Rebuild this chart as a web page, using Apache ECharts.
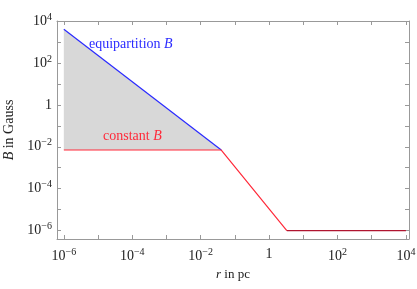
<!DOCTYPE html>
<html><head><meta charset="utf-8">
<script src="https://cdn.jsdelivr.net/npm/echarts@6/dist/echarts.min.js"></script>
<style>html,body{margin:0;padding:0;background:#fff}#c{width:417px;height:289px}</style>
</head><body><div id="c"></div>
<script>
// r in pc, B in Gauss
var equipR = [1e-6, 0.04];
var equipB = [4000, 0.007];
var constLevel = 0.007;
var constR = [1e-6, 0.04, 3.3];
var constB = [0.007, 0.007, 1e-6];
var tailR = [3.3, 1e4];
var tailB = [1e-6, 1e-6];
var xTickExps = [-6, -5, -4, -3, -2, -1, 0, 1, 2, 3, 4];
var xLabelExps = [-6, -4, -2, 0, 2, 4];
var yTickExps = [-6, -5, -4, -3, -2, -1, 0, 1, 2, 3, 4];
var yLabelExps = [-6, -4, -2, 0, 2, 4];

var L = Math.log10;
function pts(xs, ys) { return xs.map(function (x, i) { return [L(x), L(ys[i])]; }); }

var FONT = 'Liberation Serif';
var GRAY = '#999999';
function fmt(v) {
  var n = Math.round(v);
  if (n === 0) return '{b|1}';
  return '{b|10}{s|' + (n < 0 ? '\u2212' + (-n) : n) + '}';
}
var rich = { b: { fontFamily: FONT, fontSize: 14, color: '#222' }, s: { fontFamily: FONT, fontSize: 10, color: '#222', padding: [0, 0, 8, 0] } };
function axisCommon(extra, ticks) {
  var o = {
    type: 'value',
    axisLine: { show: true, onZero: false, lineStyle: { color: GRAY, width: 1 } },
    axisTick: { show: true, inside: true, length: 4, customValues: ticks, lineStyle: { color: GRAY } },
    splitLine: { show: false },
    axisLabel: { show: false }
  };
  for (var k in extra) o[k] = extra[k];
  return o;
}
var chart = echarts.init(document.getElementById('c'), null, { renderer: 'canvas' });
chart.setOption({
  animation: false,
  grid: { left: 57, right: 8, top: 21, bottom: 50, containLabel: false, outerBoundsMode: 'none' },
  xAxis: [
    axisCommon({ position: 'bottom', min: -6.2, max: 4.09,
      axisLabel: { show: true, customValues: xLabelExps, formatter: fmt, rich: rich, margin: 8 },
      name: '{i|r} in pc', nameLocation: 'middle', nameGap: 27,
      nameTextStyle: { fontFamily: FONT, fontSize: 13, color: '#222', rich: { i: { fontFamily: FONT, fontSize: 13, fontStyle: 'italic', color: '#222' } } } }, xTickExps),
    axisCommon({ position: 'top', min: -6.2, max: 4.09 }, xTickExps)
  ],
  yAxis: [
    axisCommon({ position: 'left', min: -6.4, max: 4,
      axisLabel: { show: true, customValues: yLabelExps, formatter: fmt, rich: rich, margin: 5 },
      name: '{i|B} in Gauss', nameLocation: 'middle', nameGap: 41,
      nameTextStyle: { fontFamily: FONT, fontSize: 14, color: '#222', rich: { i: { fontFamily: FONT, fontSize: 14, fontStyle: 'italic', color: '#222' } } } }, yTickExps),
    axisCommon({ position: 'right', min: -6.4, max: 4 }, yTickExps)
  ],
  series: [
    { type: 'line', data: pts(equipR, equipB), symbol: 'none', lineStyle: { color: '#2a2aff', width: 1.2 },
      areaStyle: { color: '#d8d8d8', opacity: 1, origin: L(constLevel) }, z: 2 },
    { type: 'line', data: pts(constR, constB), symbol: 'none', lineStyle: { color: '#ff2a3a', width: 1.2 }, z: 3 },
    { type: 'line', data: pts(tailR, tailB), symbol: 'none', lineStyle: { color: '#b01530', width: 1.2 }, z: 3 }
  ],
  graphic: [
    { type: 'text', left: 89, top: 37, z: 10, style: { text: 'equipartition {i|B}', fontFamily: FONT, fontSize: 14, fill: '#2a2aff', rich: { i: { fontFamily: FONT, fontSize: 14, fontStyle: 'italic', fill: '#2a2aff' } } } },
    { type: 'text', left: 103, top: 129, z: 10, style: { text: 'constant {i|B}', fontFamily: FONT, fontSize: 14, fill: '#ff2a3a', rich: { i: { fontFamily: FONT, fontSize: 14, fontStyle: 'italic', fill: '#ff2a3a' } } } }
  ]
});
</script></body></html>
